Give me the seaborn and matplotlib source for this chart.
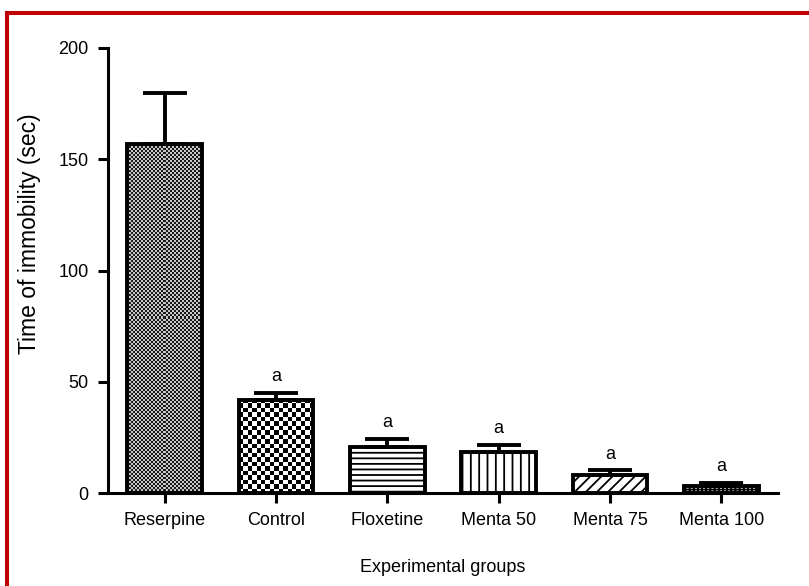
import numpy as np
import pandas as pd
import matplotlib
matplotlib.use("Agg")
import matplotlib.pyplot as plt
from matplotlib.colors import ListedColormap
from matplotlib.patches import Rectangle
import seaborn as sns

groups = ["Reserpine", "Control", "Floxetine", "Menta 50", "Menta 75", "Menta 100"]
means = [156.8, 41.8, 20.7, 18.4, 8.1, 3.0]
sem = [22.9, 3.2, 3.6, 3.2, 2.2, 1.5]
sig = ["", "a", "a", "a", "a", "a"]
yticks = [0, 50, 100, 150, 200]

sns.set_style("ticks")
plt.rcParams["font.family"] = ["Liberation Sans", "DejaVu Sans"]
plt.rcParams["hatch.linewidth"] = 1.3
plt.rcParams["axes.labelcolor"] = "black"
plt.rcParams["text.color"] = "black"

fig = plt.figure(figsize=(8.09, 5.86), dpi=100)
ax = fig.add_axes([108 / 809, 93 / 586, 670 / 809, 445 / 586])

df = pd.DataFrame({"group": groups, "mean": means})
sns.barplot(data=df, x="group", y="mean", order=groups, errorbar=None,
            width=0.67, color="white", edgecolor="black", linewidth=2.8,
            ax=ax, zorder=2)

ax.set_xlim(-0.51, len(groups) - 0.49)
ax.set_ylim(0, 200)

bars = [p for p in ax.patches][:len(groups)]
hatches = [None, None, "---", "||", "///", "++++"]
for p, h in zip(bars, hatches):
    if h:
        p.set_hatch(h)
        p.set_facecolor("white")


def checker(patch, sq_px, dark, light):
    x0, y0 = patch.get_x(), patch.get_y()
    w, h = patch.get_width(), patch.get_height()
    p0 = ax.transData.transform((x0, y0))
    p1 = ax.transData.transform((x0 + w, y0 + h))
    nx = max(1, int(round((p1[0] - p0[0]) / sq_px)))
    ny = max(1, int(round((p1[1] - p0[1]) / sq_px)))
    arr = np.add.outer(np.arange(ny), np.arange(nx)) % 2
    im = ax.imshow(arr, extent=(x0, x0 + w, y0, y0 + h), origin="lower",
                   cmap=ListedColormap([light, dark]), interpolation="nearest",
                   aspect="auto", zorder=1.5)
    im.set_clip_path(patch)
    patch.set_facecolor("none")


checker(bars[0], 2.0, "#1a1a1a", "#c8c8c8")
checker(bars[1], 4.5, "black", "white")
ax.set_xlim(-0.51, len(groups) - 0.49)
ax.set_ylim(0, 200)

xpos = np.arange(len(groups))
ax.errorbar(xpos, means, yerr=[np.zeros(len(sem)), sem], fmt="none",
            ecolor="black", elinewidth=2.8, capsize=15.5, capthick=2.8,
            zorder=3)

for x, m, s, t in zip(xpos, means, sem, sig):
    if t:
        ax.annotate(t, xy=(x, m + s), xytext=(0, 8.3), textcoords="offset points",
                    ha="center", va="baseline", fontsize=13, color="black")

ax.set_yticks(yticks)
ax.set_yticklabels([str(v) for v in yticks])
sns.despine(ax=ax)
for s in ["left", "bottom"]:
    ax.spines[s].set_linewidth(2.2)
    ax.spines[s].set_color("black")
ax.tick_params(axis="both", direction="out", length=7, width=2.2,
               labelsize=13, colors="black")
ax.tick_params(axis="y", pad=7)
ax.tick_params(axis="x", pad=7)

ax.set_xlabel("Experimental groups", fontsize=13, labelpad=21, color="black")
ax.set_ylabel("Time of immobility (sec)", fontsize=16.5, color="black")
ax.yaxis.set_label_coords(-0.1, 0.582)

frame = Rectangle((7 / 809, -0.5), 2.0, 0.5 + 1 - 13 / 586,
                  transform=fig.transFigure, fill=False,
                  edgecolor="#c00000", linewidth=2.9, clip_on=False)
fig.add_artist(frame)

fig.savefig("out.png", dpi=100, facecolor="white")
